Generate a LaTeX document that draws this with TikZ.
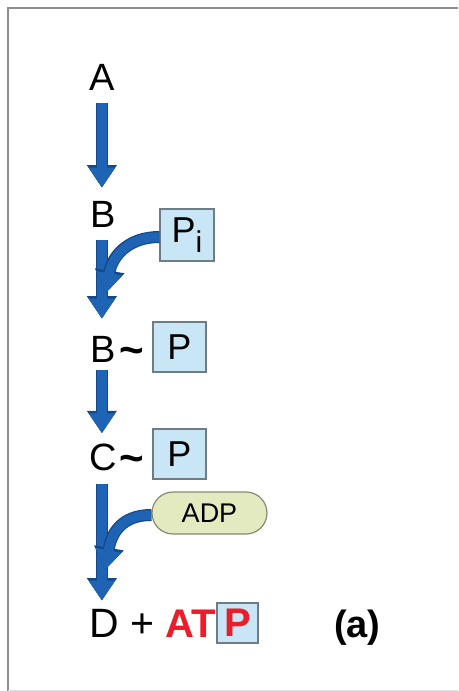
\documentclass[tikz,border=0pt]{standalone}
\usepackage{fontspec}
\setmainfont{Liberation Sans}
\usetikzlibrary{arrows.meta,calc}
\definecolor{flowblue}{HTML}{1E63B4}
\definecolor{flowdark}{HTML}{13498A}
\definecolor{boxfill}{HTML}{C8E6F6}
\definecolor{boxedge}{HTML}{6E7C86}
\definecolor{adpfill}{HTML}{E4EAC0}
\definecolor{adpedge}{HTML}{858A74}
\definecolor{atpred}{HTML}{EC1C2A}
\definecolor{framegray}{HTML}{8E8E8E}
\begin{document}
\begin{tikzpicture}[x=1pt,y=-1pt,
  lbl/.style={font=\fontsize{38}{38}\selectfont, inner sep=0pt, anchor=base west},
  tilde/.style={font=\fontsize{42}{42}\selectfont\bfseries, inner sep=0pt, anchor=base west},
  bigl/.style={font=\fontsize{41}{41}\selectfont, inner sep=0pt},
  pbox/.style={draw=boxedge, fill=boxfill, line width=1.2pt, inner sep=0pt,
    minimum width=53pt, minimum height=50pt, font=\fontsize{36}{36}\selectfont},
  adpbox/.style={draw=adpedge, fill=adpfill, line width=1.2pt, inner sep=0pt,
    rounded corners=21pt, minimum width=115pt, minimum height=42pt,
    font=\fontsize{27}{27}\selectfont},
  flow/.style={draw=flowblue, line width=9.5pt,
    -{Triangle[width=25pt,length=20pt]},
    preaction={draw=flowdark, line width=12pt,
      -{Triangle[width=28.5pt,length=22.5pt]}}},
  frame/.style={draw=framegray, line width=2.6pt},
]
\useasboundingbox (0,0) rectangle (458,691);

% outer frame
\draw[frame] (8,691) -- (8,8) -- (458,8);
\draw[gray!25, line width=1pt] (8,690) -- (458,690);

% species along the pathway
\node[lbl] (A) at (89,90) {A};
\node[lbl] (B) at (90,227) {B};
\node[pbox, minimum width=54pt, minimum height=52pt] (Pi) at (187,235)
  {P\raisebox{-10pt}{\fontsize{30}{30}\selectfont i}};

\node[lbl] (B2) at (90,362) {B};
\node[tilde] (t1) at (119,364) {\textasciitilde};
\node[pbox] (P1) at (179.5,347) {P};

\node[lbl] (C) at (89,470) {C};
\node[tilde] (t2) at (119,472) {\textasciitilde};
\node[pbox] (P2) at (179.5,454) {P};

\node[adpbox] (adp) at (209.5,513) {ADP};

\node[bigl, anchor=base west] (D) at (89,637) {D};
\node[bigl, anchor=base] (plus) at (142,637) {+};
\node[bigl, anchor=base west, text=atpred, font=\fontsize{40}{40}\selectfont\bfseries]
  (AT) at (165,637) {AT};
\node[pbox, minimum width=41pt, minimum height=40pt, text=atpred,
  font=\fontsize{40}{40}\selectfont\bfseries] (P3) at (237.5,623) {P};
\node[bigl, anchor=base west, font=\fontsize{38}{38}\selectfont\bfseries]
  (lab) at (334,637) {(a)};

% junction points of the side arrows
\coordinate (j1) at (106,293);
\coordinate (j2) at (105,570);

% main pathway arrows
\draw[flow] ([yshift=-13pt]A.south) -- ([yshift=13pt]A.south |- B.north);
\draw[flow] ([yshift=-13pt]A.south |- B.south) -- ([yshift=17pt]A.south |- B2.north);
\draw[flow] ([yshift=-8pt]A.south |- B2.south) -- ([yshift=10pt]A.south |- C.north);
\draw[flow] ([yshift=-13pt]A.south |- C.south) -- ([yshift=8pt]A.south |- D.north);

% side inputs
\draw[flow] ([yshift=-2pt]Pi.west) .. controls +(-32,0) and +(6,-36) .. (j1);
\draw[flow] ([yshift=-2pt]adp.west) .. controls +(-32,0) and +(6,-34) .. (j2);
\end{tikzpicture}
\end{document}
